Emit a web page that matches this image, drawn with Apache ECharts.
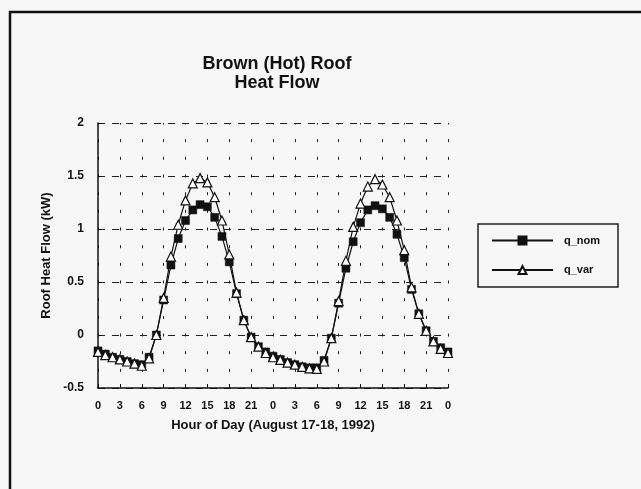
<!DOCTYPE html>
<html>
<head>
<meta charset="utf-8">
<script src="https://cdn.jsdelivr.net/npm/echarts@6/dist/echarts.min.js"></script>
<style>
html,body{margin:0;padding:0;background:#f7f7f7;}
#c{width:641px;height:489px;}
</style>
</head>
<body>
<div id="c"></div>
<script>
var hours = [0,1,2,3,4,5,6,7,8,9,10,11,12,13,14,15,16,17,18,19,20,21,22,23,24,25,26,27,28,29,30,31,32,33,34,35,36,37,38,39,40,41,42,43,44,45,46,47,48];
var qNom = [-0.15,-0.18,-0.21,-0.23,-0.25,-0.27,-0.28,-0.21,0.00,0.33,0.66,0.91,1.08,1.18,1.23,1.21,1.11,0.93,0.69,0.39,0.14,-0.02,-0.11,-0.16,-0.20,-0.23,-0.26,-0.28,-0.30,-0.31,-0.31,-0.24,-0.03,0.30,0.63,0.88,1.06,1.18,1.22,1.19,1.11,0.95,0.73,0.43,0.20,0.04,-0.06,-0.12,-0.16];
var qVar = [-0.16,-0.19,-0.21,-0.23,-0.25,-0.27,-0.29,-0.22,0.00,0.35,0.74,1.04,1.27,1.43,1.48,1.44,1.30,1.08,0.76,0.40,0.14,-0.02,-0.11,-0.17,-0.21,-0.235,-0.26,-0.28,-0.30,-0.315,-0.32,-0.25,-0.03,0.32,0.70,1.02,1.24,1.40,1.47,1.42,1.30,1.08,0.80,0.45,0.20,0.04,-0.06,-0.13,-0.17];
var xTickLabels = ['0','3','6','9','12','15','18','21','0','3','6','9','12','15','18','21','0'];
var yTicks = [-0.5, 0, 0.5, 1, 1.5, 2];
var seriesNames = ['q_nom','q_var'];
var titleText = 'Brown (Hot) Roof\nHeat Flow';
var xName = 'Hour of Day (August 17-18, 1992)';
var yName = 'Roof Heat Flow (kW)';

var FONT = 'Liberation Sans, Arial, Helvetica, sans-serif';
var chart = echarts.init(document.getElementById('c'), null, {renderer:'canvas'});
function pairs(xs, ys){ return xs.map(function(x,i){ return [x, ys[i]]; }); }

chart.setOption({
  backgroundColor: '#f7f7f7',
  animation: false,
  title: {
    text: titleText,
    left: 272, top: 50, textAlign: 'center',
    textStyle: {fontFamily: FONT, fontWeight: 'bold', fontSize: 18, lineHeight: 19, color: '#111'}
  },
  grid: {left: 98, top: 123, width: 350, height: 265, containLabel: false},
  xAxis: {
    type: 'value', min: 0, max: 48, interval: 3,
    name: xName, nameLocation: 'middle', nameGap: 31,
    nameTextStyle: {fontFamily: FONT, fontWeight: 'bold', fontSize: 13, color: '#111'},
    axisLine: {show: true, onZero: false, lineStyle: {color: '#111', width: 1.5}},
    axisTick: {show: true, inside: true, length: 4, lineStyle: {color: '#111'}},
    axisLabel: {
      margin: 12, fontFamily: FONT, fontWeight: 'bold', fontSize: 11, color: '#111',
      formatter: function(v){ return xTickLabels[Math.round(v/3)]; }
    },
    splitLine: {show: true, lineStyle: {color: '#222', width: 1, type: [3, 14.67], dashOffset: 1.5}}
  },
  yAxis: {
    type: 'value', min: yTicks[0], max: yTicks[yTicks.length-1], interval: 0.5,
    name: yName, nameLocation: 'middle', nameGap: 45,
    nameTextStyle: {fontFamily: FONT, fontWeight: 'bold', fontSize: 13, color: '#111'},
    axisLine: {show: true, lineStyle: {color: '#111', width: 1.5}},
    axisTick: {show: true, inside: true, length: 4, lineStyle: {color: '#111'}},
    axisLabel: {margin: 14, fontFamily: FONT, fontWeight: 'bold', fontSize: 12, color: '#111'},
    splitLine: {show: true, lineStyle: {color: '#222', width: 1, type: [7, 7]}}
  },
  legend: {
    orient: 'vertical', left: 491, top: 235,
    itemWidth: 61, itemHeight: 10, itemGap: 18.6,
    padding: 0,
    data: seriesNames,
    textStyle: {fontFamily: FONT, fontWeight: 'bold', fontSize: 11, color: '#111', padding: [0,0,0,6]}
  },
  graphic: [
    {type: 'rect', silent: true, shape: {x: 10, y: 12, width: 700, height: 600},
     style: {fill: 'none', stroke: '#111', lineWidth: 2.5}},
    {type: 'rect', silent: true, shape: {x: 478, y: 224, width: 140, height: 63},
     style: {fill: 'none', stroke: '#222', lineWidth: 1.5}}
  ],
  series: [
    {
      name: seriesNames[0], type: 'line', data: pairs(hours, qNom),
      symbol: 'rect', symbolSize: 8, showAllSymbol: true,
      lineStyle: {color: '#111', width: 1.2},
      itemStyle: {color: '#111', borderColor: '#111', borderWidth: 0.5}
    },
    {
      name: seriesNames[1], type: 'line', data: pairs(hours, qVar),
      symbol: 'triangle', symbolSize: 9, showAllSymbol: true,
      lineStyle: {color: '#111', width: 1.2},
      itemStyle: {color: '#ffffff', borderColor: '#111', borderWidth: 1.2}
    }
  ]
});
</script>
</body>
</html>
